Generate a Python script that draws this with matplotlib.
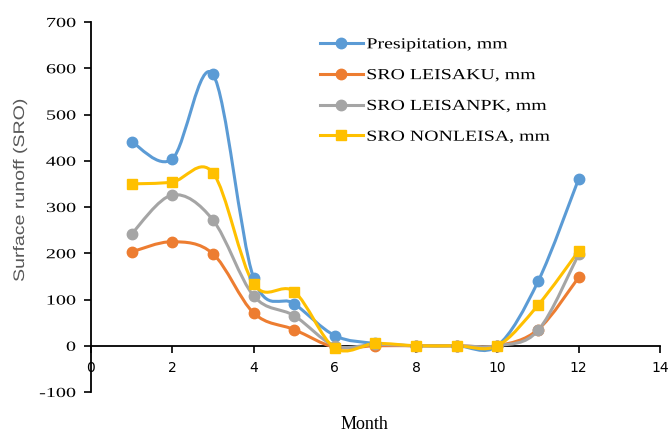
import matplotlib
matplotlib.use("Agg")
import matplotlib.pyplot as plt
from matplotlib.path import Path
from matplotlib.patches import PathPatch
from matplotlib.lines import Line2D
from matplotlib.patheffects import AbstractPathEffect
from matplotlib.transforms import Affine2D
import numpy as np

months = [1, 2, 3, 4, 5, 6, 7, 8, 9, 10, 11, 12]
precip = [441, 404, 587, 147, 91, 22, 5, 0, 0, 0, 139, 361]
sro_leisaku = [203, 225, 199, 71, 35, -3, 0, 0, 0, 0, 35, 148]
sro_leisanpk = [242, 326, 272, 108, 65, 0, 3, 0, 0, 0, 33, 198]
sro_nonleisa = [350, 354, 374, 134, 117, -5, 5, 0, 0, 0, 88, 205]

series = [
    ("Presipitation, mm", precip, "#5B9BD5", "o"),
    ("SRO LEISAKU, mm", sro_leisaku, "#ED7D31", "o"),
    ("SRO LEISANPK, mm", sro_leisanpk, "#A5A5A5", "o"),
    ("SRO NONLEISA, mm", sro_nonleisa, "#FFC000", "s"),
]
xticks = [0, 2, 4, 6, 8, 10, 12, 14]
yticks = [-100, 0, 100, 200, 300, 400, 500, 600, 700]

serif = ["Liberation Serif", "DejaVu Serif"]


class Stretch(AbstractPathEffect):
    """Widen glyphs horizontally (in text direction) around an anchor."""

    def __init__(self, sx, anchor="center"):
        super().__init__()
        self.sx = sx
        self.anchor = anchor

    def draw_path(self, renderer, gc, tpath, affine, rgbFace=None):
        ext = tpath.get_extents()
        if self.anchor == "center":
            cx = (ext.x0 + ext.x1) / 2
        elif self.anchor == "right":
            cx = ext.x1
        else:
            cx = ext.x0
        pre = Affine2D().translate(-cx, 0).scale(self.sx, 1).translate(cx, 0)
        renderer.draw_path(gc, tpath, pre + affine, rgbFace)


fig = plt.figure(figsize=(6.71, 4.36), dpi=100)
ax = fig.add_axes([0.1356, 0.1009, 0.848, 0.8486])


def smooth_path(x, y):
    pts = np.column_stack([x, y]).astype(float)
    n = len(pts)
    verts = [pts[0]]
    codes = [Path.MOVETO]
    for i in range(n - 1):
        p0 = pts[i - 1] if i > 0 else pts[i]
        p1 = pts[i]
        p2 = pts[i + 1]
        p3 = pts[i + 2] if i + 2 < n else pts[i + 1]
        c1 = p1 + (p2 - p0) / 6.0
        c2 = p2 - (p3 - p1) / 6.0
        verts += [c1, c2, p2]
        codes += [Path.CURVE4] * 3
    return Path(verts, codes)


handles = []
for label, vals, color, mk in series:
    patch = PathPatch(smooth_path(months, vals), facecolor="none", edgecolor=color,
                      lw=2.2, zorder=3, capstyle="round", joinstyle="round")
    ax.add_patch(patch)
    ax.plot(months, vals, linestyle="none", marker=mk, markersize=7.5,
            color=color, zorder=4)
    handles.append(Line2D([], [], color=color, lw=2.2, marker=mk, markersize=7.5))

ax.set_xlim(0, 14)
ax.set_ylim(-100, 700)
ax.set_xticks(xticks)
ax.set_yticks(yticks)
ax.set_xticklabels([str(t) for t in xticks], fontfamily=serif, fontsize=10)
ax.set_yticklabels([str(t) for t in yticks], fontfamily=serif, fontsize=10)
for t in ax.get_xticklabels():
    t.set_path_effects([Stretch(1.3, "center")])
for t in ax.get_yticklabels():
    t.set_path_effects([Stretch(1.45, "right")])

ax.spines["top"].set_visible(False)
ax.spines["right"].set_visible(False)
ax.spines["bottom"].set_position(("data", 0))
ax.spines["left"].set_linewidth(1.3)
ax.spines["bottom"].set_linewidth(1.3)
ax.tick_params(axis="x", direction="out", length=5, width=1.2, pad=6)
ax.tick_params(axis="y", direction="out", length=5, width=1.2, pad=6)

ylab = ax.set_ylabel("Surface runoff (SRO)", fontsize=11, color="#595959",
                     fontfamily=["Liberation Sans", "DejaVu Sans"])
ylab.set_path_effects([Stretch(1.28, "center")])
ax.yaxis.set_label_coords(-0.1125, 0.546)

mt = fig.text(0.5425, 0.006, "Month", ha="center", va="bottom", fontsize=13,
              fontfamily=serif)

leg = ax.legend(handles, [s[0] for s in series], loc="upper left",
                bbox_to_anchor=(0.378, 0.995), frameon=False,
                prop={"family": serif, "size": 11}, handlelength=2.8,
                handletextpad=0.26, labelspacing=1.12)
for t in leg.get_texts():
    t.set_path_effects([Stretch(1.3, "left")])

fig.savefig("out.png", dpi=100)
